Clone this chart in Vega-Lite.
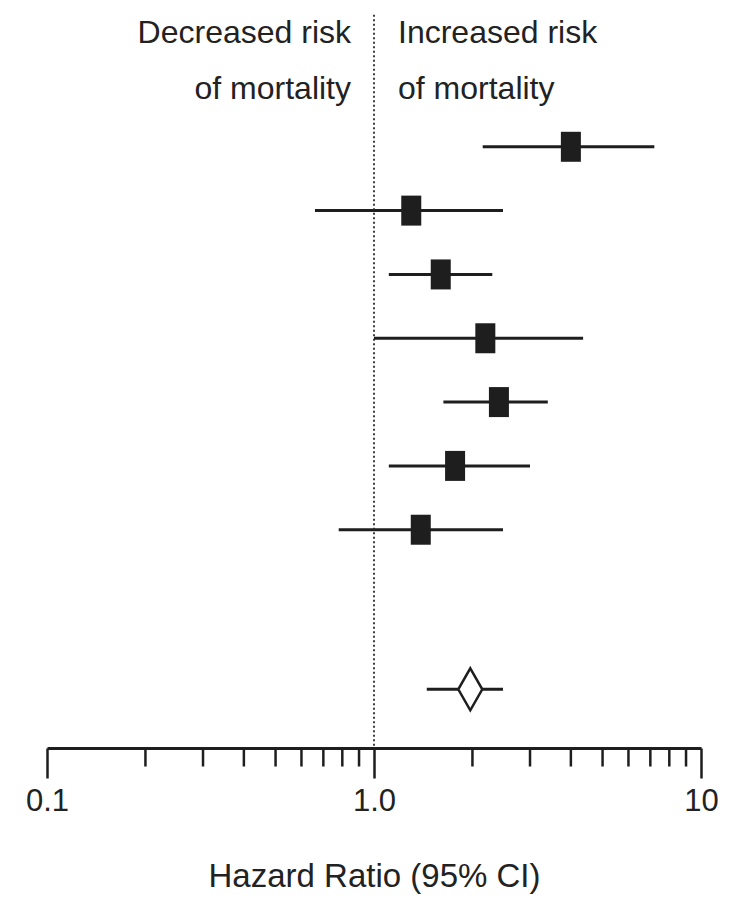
{
  "$schema": "https://vega.github.io/schema/vega-lite/v6.json",
  "width": 654,
  "height": 748,
  "autosize": {"type": "none"},
  "padding": {"left": 47, "top": 0, "right": 35, "bottom": 160},
  "background": "white",
  "config": {"view": {"stroke": null}},
  "datasets": {
    "studies": [
      {"row": 1, "hr": 4.0, "lo": 2.15, "hi": 7.2},
      {"row": 2, "hr": 1.30, "lo": 0.66, "hi": 2.48},
      {"row": 3, "hr": 1.60, "lo": 1.11, "hi": 2.30},
      {"row": 4, "hr": 2.19, "lo": 1.0, "hi": 4.36},
      {"row": 5, "hr": 2.41, "lo": 1.63, "hi": 3.40},
      {"row": 6, "hr": 1.77, "lo": 1.11, "hi": 3.00},
      {"row": 7, "hr": 1.39, "lo": 0.78, "hi": 2.48}
    ],
    "summary": [
      {"row": 9.5, "hr": 1.97, "lo": 1.45, "hi": 2.48}
    ],
    "reference": [
      {"hr": 1, "from": -1.07, "to": 10.42}
    ],
    "minor": [
      {"v": 0.2, "from": 10.42, "to": 10.71}, {"v": 0.3, "from": 10.42, "to": 10.71},
      {"v": 0.4, "from": 10.42, "to": 10.71}, {"v": 0.5, "from": 10.42, "to": 10.71},
      {"v": 0.6, "from": 10.42, "to": 10.71}, {"v": 0.7, "from": 10.42, "to": 10.71},
      {"v": 0.8, "from": 10.42, "to": 10.71}, {"v": 0.9, "from": 10.42, "to": 10.71},
      {"v": 2, "from": 10.42, "to": 10.71}, {"v": 3, "from": 10.42, "to": 10.71},
      {"v": 4, "from": 10.42, "to": 10.71}, {"v": 5, "from": 10.42, "to": 10.71},
      {"v": 6, "from": 10.42, "to": 10.71}, {"v": 7, "from": 10.42, "to": 10.71},
      {"v": 8, "from": 10.42, "to": 10.71}, {"v": 9, "from": 10.42, "to": 10.71}
    ],
    "notes": [
      {"side": "left", "hr": 1, "line": -0.62, "label": "Decreased risk"},
      {"side": "left", "hr": 1, "line": 0.25, "label": "of mortality"},
      {"side": "right", "hr": 1, "line": -0.62, "label": "Increased risk"},
      {"side": "right", "hr": 1, "line": 0.25, "label": "of mortality"}
    ]
  },
  "layer": [
    {
      "data": {"name": "studies"},
      "mark": {"type": "rule", "strokeWidth": 3, "color": "#1e1e1e"},
      "encoding": {
        "x": {
          "field": "lo", "type": "quantitative",
          "scale": {"type": "log", "domain": [0.1, 10]},
          "axis": {
            "values": [0.1, 1, 10],
            "labelExpr": "datum.value == 0.1 ? '0.1' : datum.value == 1 ? '1.0' : '10'",
            "title": "Hazard Ratio (95% CI)",
            "grid": false,
            "domainColor": "#1e1e1e",
            "domainWidth": 3,
            "tickColor": "#1e1e1e",
            "tickWidth": 2.5,
            "tickSize": 30,
            "labelFont": "Liberation Sans Narrow, Arial Narrow, Liberation Sans, Arial, sans-serif",
            "labelFontSize": 31,
            "labelColor": "#222222",
            "labelPadding": 8,
            "labelOverlap": false,
            "labelFlush": false,
            "titleFont": "Liberation Sans Narrow, Arial Narrow, Liberation Sans, Arial, sans-serif",
            "titleFontSize": 33,
            "titleFontWeight": "normal",
            "titleColor": "#222222",
            "titlePadding": 44
          }
        },
        "x2": {"field": "hi"},
        "y": {"field": "row", "type": "quantitative", "scale": {"domain": [-1.3, 10.42], "reverse": true, "zero": false, "nice": false}, "axis": null}
      }
    },
    {
      "data": {"name": "reference"},
      "mark": {"type": "rule", "strokeDash": [2, 2.5], "strokeWidth": 1.8, "color": "#2a2a2a"},
      "encoding": {
        "x": {"field": "hr", "type": "quantitative"},
        "y": {"field": "from", "type": "quantitative"},
        "y2": {"field": "to"}
      }
    },
    {
      "data": {"name": "minor"},
      "mark": {"type": "rule", "strokeWidth": 2.5, "color": "#1e1e1e"},
      "encoding": {
        "x": {"field": "v", "type": "quantitative"},
        "y": {"field": "from", "type": "quantitative"},
        "y2": {"field": "to"}
      }
    },
    {
      "data": {"name": "summary"},
      "mark": {"type": "rule", "strokeWidth": 3, "color": "#1e1e1e"},
      "encoding": {
        "x": {"field": "lo", "type": "quantitative"},
        "x2": {"field": "hi"},
        "y": {"field": "row", "type": "quantitative"}
      }
    },
    {
      "data": {"name": "studies"},
      "mark": {"type": "point", "shape": "M-0.667,-1L0.667,-1L0.667,1L-0.667,1Z", "size": 900, "filled": true, "color": "#1e1e1e", "opacity": 1},
      "encoding": {
        "x": {"field": "hr", "type": "quantitative"},
        "y": {"field": "row", "type": "quantitative"}
      }
    },
    {
      "data": {"name": "summary"},
      "mark": {"type": "point", "shape": "M0,-1L0.571,0L0,1L-0.571,0Z", "size": 1764, "filled": true, "fill": "white", "stroke": "#1e1e1e", "strokeWidth": 2.5, "opacity": 1},
      "encoding": {
        "x": {"field": "hr", "type": "quantitative"},
        "y": {"field": "row", "type": "quantitative"}
      }
    },
    {
      "data": {"name": "notes"},
      "transform": [{"filter": "datum.side == 'left'"}],
      "mark": {"type": "text", "align": "right", "baseline": "alphabetic", "dx": -23, "font": "Liberation Sans Narrow, Arial Narrow, Liberation Sans, Arial, sans-serif", "fontSize": 32, "color": "#222222"},
      "encoding": {
        "x": {"field": "hr", "type": "quantitative"},
        "y": {"field": "line", "type": "quantitative"},
        "text": {"field": "label"}
      }
    },
    {
      "data": {"name": "notes"},
      "transform": [{"filter": "datum.side == 'right'"}],
      "mark": {"type": "text", "align": "left", "baseline": "alphabetic", "dx": 24, "font": "Liberation Sans Narrow, Arial Narrow, Liberation Sans, Arial, sans-serif", "fontSize": 32, "color": "#222222"},
      "encoding": {
        "x": {"field": "hr", "type": "quantitative"},
        "y": {"field": "line", "type": "quantitative"},
        "text": {"field": "label"}
      }
    }
  ]
}
